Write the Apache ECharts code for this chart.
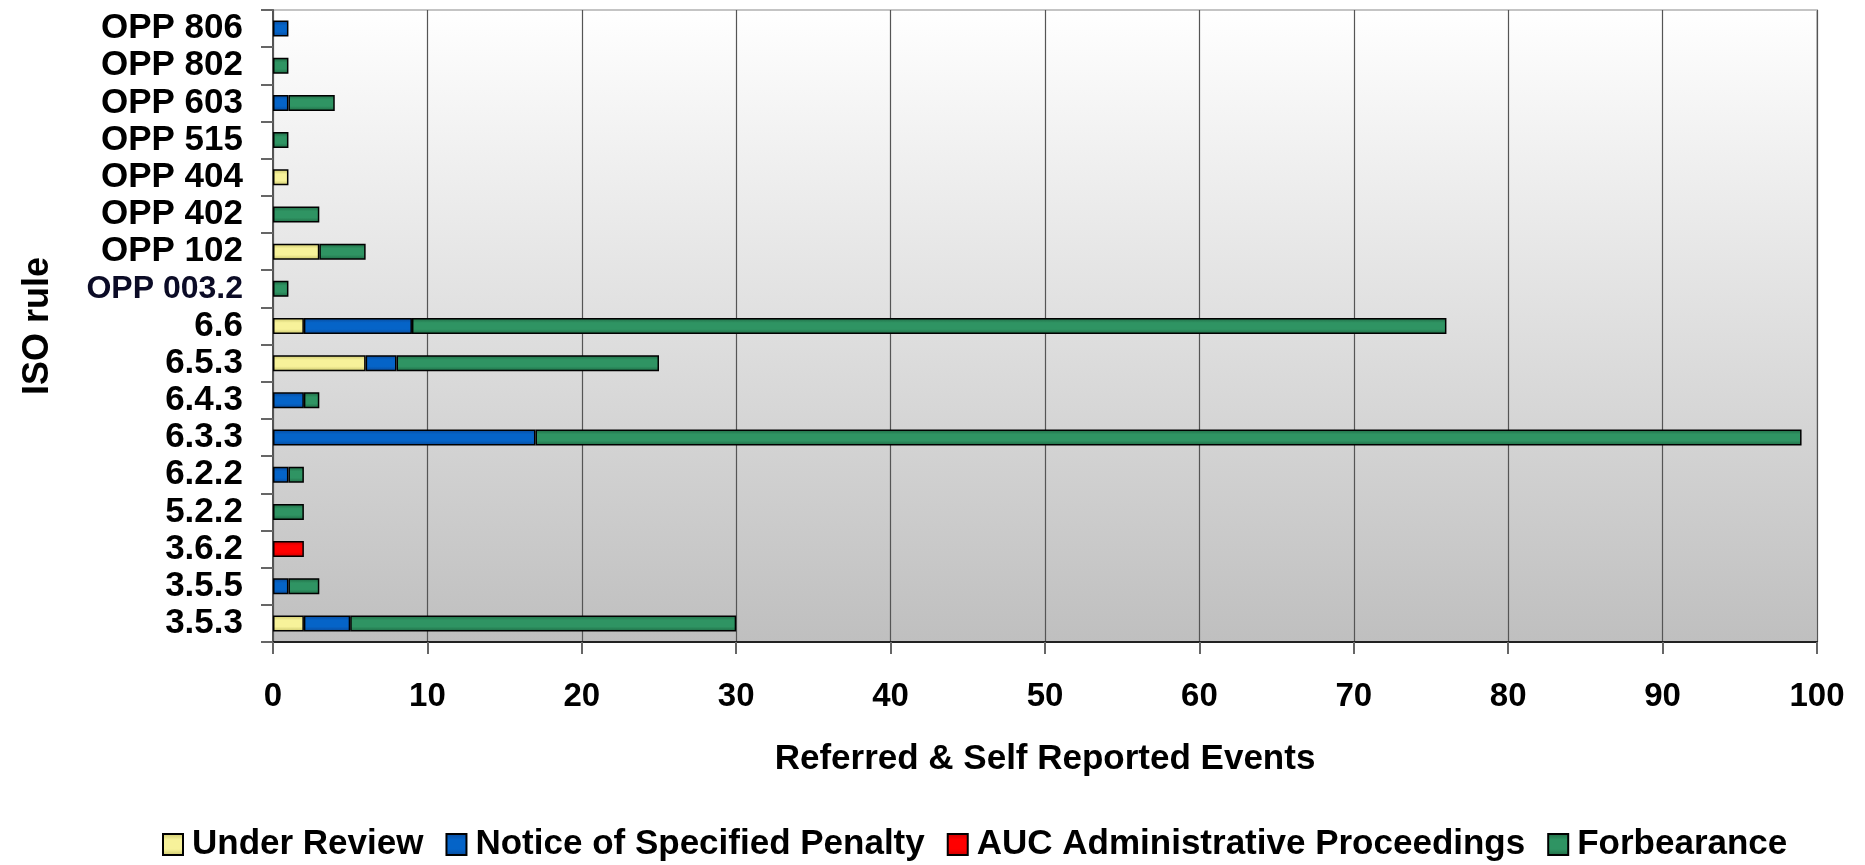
<!DOCTYPE html>
<html>
<head>
<meta charset="utf-8">
<title>ISO rule events</title>
<script src="https://cdn.jsdelivr.net/npm/echarts@6/dist/echarts.min.js"></script>
<style>
  html, body { margin: 0; padding: 0; background: #ffffff; }
  #chart { width: 1865px; height: 865px; }
</style>
</head>
<body>
<div id="chart"></div>
<script>
// ISO rules, listed bottom to top
const categories = ['3.5.3', '3.5.5', '3.6.2', '5.2.2', '6.2.2', '6.3.3', '6.4.3', '6.5.3', '6.6',
  'OPP 003.2', 'OPP 102', 'OPP 402', 'OPP 404', 'OPP 515', 'OPP 603', 'OPP 802', 'OPP 806'];

// Event counts per rule for each outcome
const underReview = [2, 0, 0, 0, 0, 0, 0, 6, 2, 0, 3, 0, 1, 0, 0, 0, 0];
const noticeOfPenalty = [3, 1, 0, 0, 1, 17, 2, 2, 7, 0, 0, 0, 0, 0, 1, 0, 1];
const aucProceedings = [0, 0, 2, 0, 0, 0, 0, 0, 0, 0, 0, 0, 0, 0, 0, 0, 0];
const forbearance = [25, 2, 0, 2, 1, 82, 1, 17, 67, 1, 3, 3, 0, 1, 3, 1, 0];

const xTicks = [0, 10, 20, 30, 40, 50, 60, 70, 80, 90, 100];

const FONT = '"Liberation Sans", Arial, sans-serif';

function shade(edge, mid) {
  return {
    type: 'linear', x: 0, y: 0, x2: 0, y2: 1,
    colorStops: [
      { offset: 0, color: edge },
      { offset: 0.3, color: mid },
      { offset: 0.7, color: mid },
      { offset: 1, color: edge }
    ]
  };
}

function barSeries(name, values, fill) {
  return {
    name: name,
    type: 'bar',
    stack: 'total',
    barWidth: 16,
    data: values.map(v => (v === 0 ? null : v)),
    itemStyle: { color: fill, borderColor: '#000000', borderWidth: 1.5 }
  };
}

const chart = echarts.init(document.getElementById('chart'), null, { renderer: 'canvas' });

chart.setOption({
  animation: false,
  backgroundColor: '#ffffff',
  grid: {
    left: 273, right: 48, top: 10, bottom: 223,
    show: true,
    borderColor: '#c4c4c4',
    borderWidth: 2,
    backgroundColor: {
      type: 'linear', x: 0, y: 0, x2: 0, y2: 1,
      colorStops: [
        { offset: 0, color: '#ffffff' },
        { offset: 1, color: '#bfbfbf' }
      ]
    }
  },
  legend: {
    left: 157,
    top: 822,
    itemWidth: 20,
    itemHeight: 21,
    itemGap: 22,
    icon: 'rect',
    textStyle: { fontFamily: FONT, fontWeight: 'bold', fontSize: 35, color: '#000000', padding: [0, 0, 0, 4] },
    data: ['Under Review', 'Notice of Specified Penalty', 'AUC Administrative Proceedings', 'Forbearance']
  },
  xAxis: {
    type: 'value',
    min: xTicks[0],
    max: xTicks[xTicks.length - 1],
    interval: xTicks[1] - xTicks[0],
    name: 'Referred & Self Reported Events',
    nameLocation: 'middle',
    nameGap: 100,
    nameTextStyle: {
      fontFamily: FONT, fontWeight: 'bold', fontSize: 35, color: '#000000',
      verticalAlign: 'top'
    },
    axisLine: { show: true, lineStyle: { color: '#222222', width: 2 } },
    axisTick: { show: true, length: 12, lineStyle: { color: '#666666', width: 2 } },
    axisLabel: { margin: 38, fontFamily: FONT, fontWeight: 'bold', fontSize: 33, color: '#000000' },
    splitLine: { show: true, lineStyle: { color: '#555555', width: 1.2 } }
  },
  yAxis: {
    type: 'category',
    data: categories,
    name: 'ISO rule',
    nameLocation: 'middle',
    nameGap: 217,
    nameRotate: 90,
    nameTextStyle: { fontFamily: FONT, fontWeight: 'bold', fontSize: 36, color: '#000000' },
    axisLine: { show: true, lineStyle: { color: '#555555', width: 2 } },
    axisTick: { show: true, length: 12, lineStyle: { color: '#666666', width: 2 } },
    axisLabel: {
      interval: 0,
      margin: 30,
      fontFamily: FONT, fontWeight: 'bold', fontSize: 35, color: '#000000',
      formatter: v => (v === 'OPP 003.2' ? '{navy|' + v + '}' : v),
      rich: { navy: { fontFamily: FONT, fontWeight: 'bold', fontSize: 32, color: '#0b0b26' } }
    },
    splitLine: { show: false }
  },
  series: [
    barSeries('Under Review', underReview, shade('#c9c46a', '#f7f29a')),
    barSeries('Notice of Specified Penalty', noticeOfPenalty, shade('#0a4a9a', '#0564c8')),
    barSeries('AUC Administrative Proceedings', aucProceedings, shade('#c80000', '#ff0000')),
    barSeries('Forbearance', forbearance, shade('#1f6a44', '#2f9463'))
  ]
});
</script>
</body>
</html>
